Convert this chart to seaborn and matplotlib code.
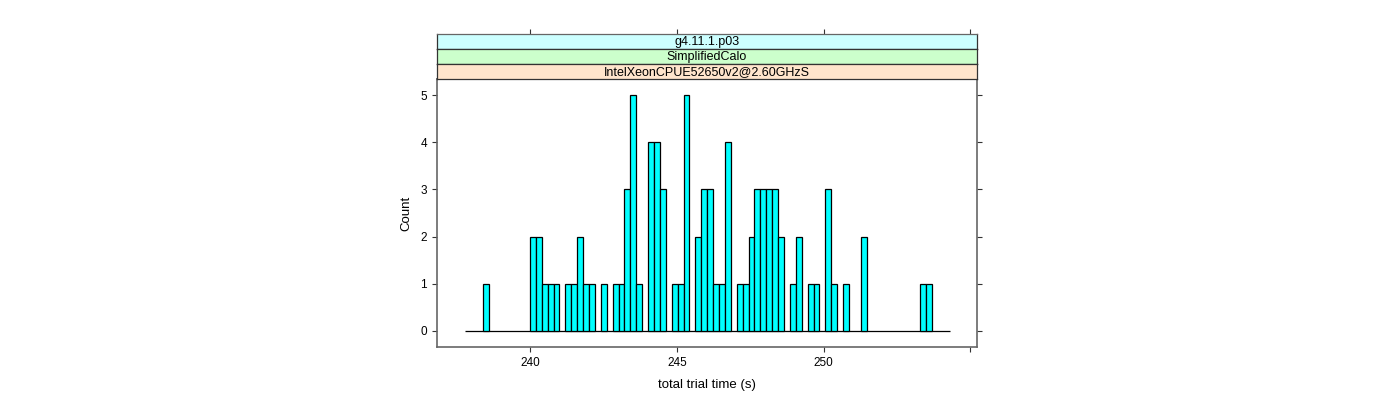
"""
Lattice-style histogram of total trial time, redrawn with seaborn.
Output: out.png (1400x400)
"""

import numpy as np
import pandas as pd
import matplotlib
matplotlib.use("Agg")
import matplotlib.pyplot as plt
import seaborn as sns

# ---------------------------------------------------------------------------
# Data
# ---------------------------------------------------------------------------

BIN_START = 237.77
BIN_WIDTH = 0.2015
BIN_COUNTS = [
    0, 0, 0, 1, 0, 0, 0, 0, 0, 0,
    0, 2, 2, 1, 1, 1, 0, 1, 1, 2,
    1, 1, 0, 1, 0, 1, 1, 3, 5, 1,
    0, 4, 4, 3, 0, 1, 1, 5, 0, 2,
    3, 3, 1, 1, 4, 0, 1, 1, 2, 3,
    3, 3, 3, 2, 0, 1, 2, 0, 1, 1,
    0, 3, 1, 0, 1, 0, 0, 2, 0, 0,
    0, 0, 0, 0, 0, 0, 0, 1, 1, 0,
    0, 0,
]
STRIP_LABELS = ["g4.11.1.p03", "SimplifiedCalo", "IntelXeonCPUE52650v2@2.60GHzS"]
X_TICKS = [240, 245, 250, 255]
X_TICK_LABELS = ["240", "245", "250", ""]
Y_TICKS = [0, 1, 2, 3, 4, 5]

# ---------------------------------------------------------------------------
# Style
# ---------------------------------------------------------------------------

STRIP_COLORS = ["#CCFFFF", "#CCFFCC", "#FFE5CC"]   # top -> bottom
BAR_COLOR = "#00FFFF"
FRAME_COLOR = "#666666"
TICK_LEN = 3.8

plt.rcParams["font.family"] = ["Liberation Sans", "DejaVu Sans"]

# ---------------------------------------------------------------------------
# Figure
# ---------------------------------------------------------------------------

fig = plt.figure(figsize=(14, 4), dpi=100)
fig.patch.set_facecolor("white")

left, width = 437 / 1400, 540 / 1400
bottom, height = 1 - 347 / 400, 268 / 400
ax = fig.add_axes([left, bottom, width, height])

n_bins = len(BIN_COUNTS)
bin_end = BIN_START + BIN_WIDTH * n_bins
df = pd.DataFrame({
    "time": BIN_START + BIN_WIDTH * (np.arange(n_bins) + 0.5),
    "count": BIN_COUNTS,
})

sns.histplot(
    data=df, x="time", weights="count",
    bins=n_bins, binrange=(BIN_START, bin_end),
    color=BAR_COLOR, alpha=1, edgecolor="black", linewidth=0.9,
    ax=ax,
)
# empty bins: lattice shows them as one continuous baseline, not stubby rectangles
for patch in ax.patches:
    if patch.get_height() == 0:
        patch.set_edgecolor("none")
ax.hlines(0, BIN_START, bin_end, color="black", linewidth=0.9, zorder=0.5)

xlim = (236.82, 255.23)
ax.set_xlim(*xlim)
ax.set_ylim(-0.35, 5.35)

ax.set_xticks(X_TICKS)
ax.set_xticklabels(X_TICK_LABELS)
ax.set_yticks(Y_TICKS)
ax.set_yticklabels([str(v) for v in Y_TICKS])
ax.tick_params(axis="both", direction="out", length=TICK_LEN, width=0.8,
               colors="#333333", labelsize=8.5, labelcolor="black")
ax.tick_params(axis="y", right=True, labelright=False)
ax.tick_params(axis="x", top=False)
for spine in ax.spines.values():
    spine.set_edgecolor(FRAME_COLOR)
    spine.set_linewidth(1.2)

ax.set_xlabel("total trial time (s)", fontsize=9.5, labelpad=7)
ax.set_ylabel("Count", fontsize=9.5, labelpad=6)

# Strips (lattice panel headers), top strip carries the top ticks
strip_h = 15 / 400
for i, (label, color) in enumerate(zip(STRIP_LABELS, STRIP_COLORS)):
    level = len(STRIP_LABELS) - 1 - i
    sax = fig.add_axes([left, bottom + height + level * strip_h, width, strip_h])
    sax.set_facecolor(color)
    sax.set_xlim(*xlim)
    sax.set_ylim(0, 1)
    sax.set_yticks([])
    if i == 0:
        sax.set_xticks(X_TICKS)
        sax.tick_params(axis="x", top=True, bottom=False, labeltop=False,
                        labelbottom=False, direction="out", length=TICK_LEN,
                        width=0.8, colors="#333333")
    else:
        sax.set_xticks([])
    for spine in sax.spines.values():
        spine.set_edgecolor("#333333")
        spine.set_linewidth(0.9)
    sax.spines["top"].set_edgecolor(FRAME_COLOR if i == 0 else "#333333")
    sax.text(0.5, 0.45, label, transform=sax.transAxes,
             ha="center", va="center", fontsize=9)

fig.savefig("out.png", dpi=100)
plt.close(fig)
